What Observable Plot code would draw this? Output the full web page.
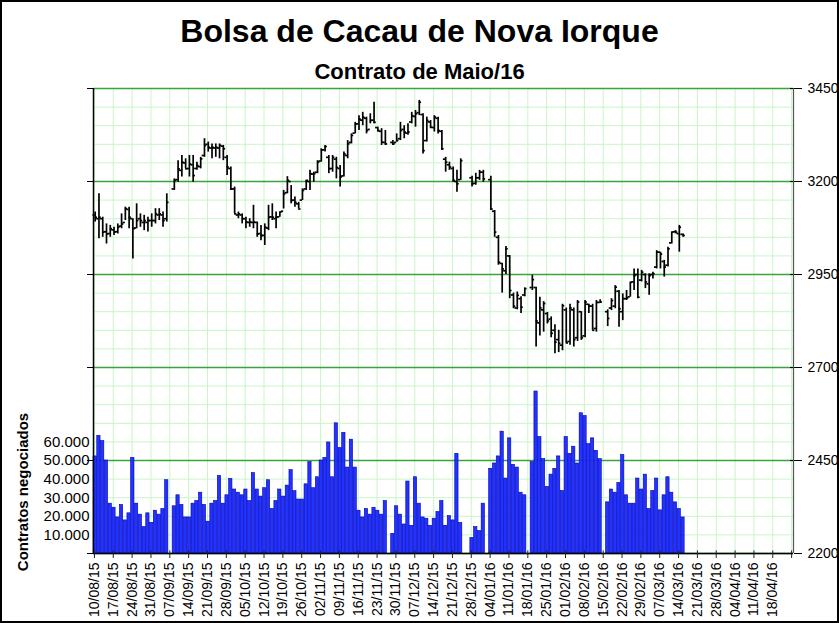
<!DOCTYPE html>
<html>
<head>
<meta charset="utf-8">
<script src="https://cdn.jsdelivr.net/npm/d3@7"></script>
<script src="https://cdn.jsdelivr.net/npm/@observablehq/plot@0.6"></script>
<style>
  body { margin: 0; background: #fff; }
  #wrap { position: relative; width: 839px; height: 623px; overflow: hidden; background: #fff;
          font-family: "Liberation Sans", Arial, sans-serif; color: #000; }
  #chart { position: absolute; left: 0; top: 0; }
  #title { position: absolute; left: 0; width: 839px; top: 15px; text-align: center;
           font-weight: bold; font-size: 32px; line-height: 32px; white-space: nowrap; }
  #subtitle { position: absolute; left: 0; width: 839px; top: 61px; text-align: center;
              font-weight: bold; font-size: 22px; line-height: 22px; white-space: nowrap; }
  #ylabel { position: absolute; left: 22px; top: 492px; transform: translate(-50%, -50%) rotate(-90deg);
            font-weight: bold; font-size: 15px; white-space: nowrap; }
  #frame { position: absolute; left: 0; top: 0; right: 0; bottom: 0; border: 2px solid #000;
           box-sizing: border-box; pointer-events: none; }
</style>
</head>
<body>
<div id="wrap">
  <div id="chart"></div>
  <div id="title">Bolsa de Cacau de Nova Iorque</div>
  <div id="subtitle">Contrato de Maio/16</div>
  <div id="ylabel">Contratos negociados</div>
  <div id="frame"></div>
</div>
<script>
// Weekly tick labels (Mondays); trading day index 0 = 10/08/15, 5 weekdays per week
const weekLabels = ["10/08/15","17/08/15","24/08/15","31/08/15","07/09/15","14/09/15","21/09/15","28/09/15",
  "05/10/15","12/10/15","19/10/15","26/10/15","02/11/15","09/11/15","16/11/15","23/11/15","30/11/15",
  "07/12/15","14/12/15","21/12/15","28/12/15","04/01/16","11/01/16","18/01/16","25/01/16","01/02/16",
  "08/02/16","15/02/16","22/02/16","29/02/16","07/03/16","14/03/16","21/03/16","28/03/16","04/04/16",
  "11/04/16","18/04/16"];

// Daily OHLC (US$/t), one entry per weekday; null = exchange holiday
const open = [3110,3100,3100,3065,3060,3070,3065,3080,3090,3125,3100,3075,3100,3090,3090,3095,3095,3110,3110,3100,
  null,3180,3205,3230,3250,3235,3245,3235,3240,3270,3300,3290,3290,3290,3295,3265,3235,3180,3110,3110,
  3100,3090,3090,3090,3060,3055,3075,3105,3100,3105,3120,3170,3200,3150,3140,3150,3180,3200,3220,3225,
  3255,3285,3265,3235,3260,3235,3215,3270,3305,3330,3355,3365,3370,3340,3365,3345,3335,3305,null,3305,
  3305,3315,3340,3330,3360,3375,3385,3380,3310,3360,3345,3370,3335,3260,3245,3235,3200,3205,null,null,
  3210,3195,3210,3225,null,3205,3120,3050,2980,2960,3000,2895,2860,2885,2895,null,2915,2915,2820,2855,
  2845,2830,2800,2775,2760,2855,2770,2855,2780,2850,2785,2870,2865,2805,2875,null,2850,2860,2865,2905,
  2850,2885,2890,2930,2950,2935,2950,2925,2950,2970,3010,2985,2975,3035,3065,3060,3058];
const high = [3118,3167,3104,3086,3082,3077,3086,3113,3131,3131,3100,3140,3113,3109,3104,3113,3127,3127,3118,3167,
  null,3207,3256,3270,3261,3270,3270,3252,3265,3315,3306,3301,3301,3301,3297,3270,3239,3185,3118,3113,
  3104,3100,3136,3091,3082,3086,3136,3140,3118,3118,3176,3213,3189,3158,3144,3180,3203,3230,3225,3256,
  3288,3297,3270,3270,3265,3243,3279,3310,3328,3359,3377,3386,3373,3382,3413,3346,3342,3337,null,3310,
  3328,3359,3350,3355,3386,3391,3418,3382,3373,3364,3377,3373,3337,3265,3252,3239,3230,3261,null,null,
  3214,3222,3230,3230,null,3214,3122,3055,2980,3025,3001,2900,2903,2890,2914,null,2948,2916,2889,2877,
  2848,2836,2815,2800,2870,2860,2870,2860,2880,2850,2880,2870,2870,2880,2882,null,2855,2885,2920,2907,
  2898,2907,2929,2965,2965,2961,2952,2952,2956,3014,3010,2988,3023,3064,3068,3082,3059];
const low = [3091,3046,3050,3032,3050,3055,3059,3073,3095,3073,2992,3073,3077,3068,3064,3077,3086,3095,3077,3091,
  null,3176,3198,3212,3234,3212,3198,3230,3234,3265,3279,3261,3265,3261,3256,3216,3176,3113,3100,3086,
  3073,3077,3073,3050,3041,3028,3068,3095,3073,3104,3126,3167,3140,3131,3126,3149,3176,3176,3198,3221,
  3252,3279,3221,3225,3207,3185,3212,3261,3301,3328,3337,3350,3328,3355,3355,3333,3297,3297,null,3297,
  3306,3310,3315,3324,3355,3346,3377,3274,3306,3342,3333,3328,3283,3225,3230,3198,3171,3203,null,null,
  3185,3190,3203,3198,null,3122,3050,2975,2900,2950,2885,2858,2855,2845,2890,null,2907,2755,2785,2795,
  2817,2780,2737,2740,2745,2765,2760,2755,2770,2773,2780,2845,2800,2795,2872,null,2810,2853,2858,2808,
  2826,2880,2889,2907,2885,2930,2912,2894,2938,2965,2965,2943,2970,3032,3059,3010,3050];
const close = [3104,3104,3064,3059,3073,3064,3077,3086,3127,3104,3073,3095,3095,3095,3095,3095,3113,3113,3095,3144,
  null,3203,3234,3252,3234,3247,3216,3243,3261,3297,3292,3292,3292,3297,3288,3239,3180,3113,3113,3100,
  3091,3091,3091,3059,3055,3077,3104,3104,3104,3118,3167,3203,3149,3144,3126,3176,3203,3221,3221,3252,
  3285,3294,3234,3265,3238,3212,3274,3301,3324,3355,3368,3373,3337,3364,3359,3337,3306,3301,null,3301,
  3310,3337,3333,3333,3377,3382,3413,3283,3364,3346,3373,3337,3288,3252,3239,3203,3194,3256,null,null,
  3194,3210,3225,3207,null,3126,3064,2983,2965,3019,2907,2865,2894,2862,2912,null,2936,2825,2860,2872,
  2825,2792,2768,2765,2866,2766,2860,2775,2876,2780,2876,2865,2800,2875,2876,null,2832,2880,2916,2858,
  2885,2887,2929,2947,2889,2956,2930,2947,2952,3010,3005,2970,3019,3064,3064,3077,3055];

// Daily volume (contracts)
const volume = [52200,63300,60400,50000,26800,24600,19400,26100,17800,21600,51400,26800,20900,14200,21600,16500,23000,20900,23900,39400,
  null,25400,31300,26100,19400,19400,26800,28200,32700,26100,17100,26800,28200,41700,26800,31300,40100,34400,32700,31300,
  34400,28200,43200,34400,30600,35100,39400,23900,28200,34400,30600,36500,44800,33500,29000,29000,37200,49100,35100,41000,
  50000,51400,59700,41000,70000,56700,64900,46200,61200,46200,23000,19400,23900,20900,24600,23000,20900,28200,null,10600,
  25400,20900,15600,38700,14900,41000,26800,19400,18700,14900,18700,22300,28200,14900,20100,17800,53600,16400,null,null,
  8300,14200,12100,26800,null,45500,48400,52200,65500,40300,61900,47700,46200,32700,31300,null,49100,87100,62600,50700,
  35800,42400,45500,52200,33600,62600,53600,57400,48400,75400,73900,58800,61900,55200,50700,null,27500,34400,32700,37900,
  52900,31300,26800,26800,40300,34400,42400,23900,33600,40300,23200,31300,41000,32700,27500,23900,19400];

// Axis definitions
const priceMajor = [2200, 2450, 2700, 2950, 3200, 3450];
const priceMinorStep = 50;
const volumeTicks = [10000, 20000, 30000, 40000, 50000, 60000];
const volumeFull = 250000; // contracts spanning the full price range 2200..3450

const pMin = 2200, pMax = 3450;
const volToPrice = v => pMin + v * (pMax - pMin) / volumeFull;

const bars = high.map((h, i) => ({i, open: open[i], high: h, low: low[i], close: close[i]})).filter(d => d.high != null);
const vols = volume.map((v, i) => ({i, v})).filter(d => d.v != null);
const weekIdx = weekLabels.map((_, k) => k * 5).concat([weekLabels.length * 5]);
const minorY = d3.range(pMin, pMax + 1, priceMinorStep);
const ptBR = d3.formatLocale({decimal: ",", thousands: ".", grouping: [3], currency: ["", ""]});
const fmtVol = ptBR.format(",");

const chart = Plot.plot({
  width: 839, height: 623,
  marginLeft: 93, marginRight: 46, marginTop: 88, marginBottom: 70,
  style: {fontFamily: '"Liberation Sans", Arial, sans-serif', fontSize: "14px", color: "#000", background: "transparent", overflow: "visible"},
  x: {type: "linear", domain: [-0.25, 185.5], axis: null},
  y: {type: "linear", domain: [pMin, pMax], axis: null},
  marks: [
    // grid
    Plot.ruleY(minorY, {stroke: "#c9f5c9", strokeWidth: 1}),
    Plot.ruleX(weekIdx, {stroke: "#c9f5c9", strokeWidth: 1}),
    Plot.ruleY(priceMajor, {stroke: "#38a538", strokeWidth: 1.4}),
    // volume bars
    Plot.rectY(vols, {x1: d => d.i - 0.25, x2: d => d.i + 0.62, y1: pMin, y2: d => volToPrice(d.v),
      fill: "#2233ff", stroke: "#0000b0", strokeWidth: 0.6}),
    // OHLC bars
    Plot.ruleX(bars, {x: d => d.i + 0.2, y1: "low", y2: "high", stroke: "#000", strokeWidth: 1.7}),
    Plot.ruleY(bars, {y: "open", x1: d => d.i - 0.4, x2: d => d.i + 0.2, stroke: "#000", strokeWidth: 1.7}),
    Plot.ruleY(bars, {y: "close", x1: d => d.i + 0.2, x2: d => d.i + 0.8, stroke: "#000", strokeWidth: 1.7}),
    // axis lines
    Plot.ruleX([-0.25], {stroke: "#000", strokeWidth: 1.5}),
    Plot.ruleX([185.5], {stroke: "#555", strokeWidth: 1.2}),
    Plot.ruleY([pMin], {stroke: "#000", strokeWidth: 1.5}),
    // x ticks crossing the axis
    Plot.ruleX(weekIdx, {y1: pMin, y2: pMin + 7, stroke: "#222"}),
    Plot.axisX({ticks: weekIdx, tickFormat: d => weekLabels[d / 5] ?? "", tickRotate: -90,
      tickSize: 5, tickPadding: 4, fontSize: 14, label: null, stroke: "#222"}),
    // left: price tick marks (no labels) + volume labels
    Plot.axisY({anchor: "left", ticks: priceMajor, tickSize: 6, tickFormat: () => "", label: null}),
    Plot.axisY({anchor: "left", ticks: volumeTicks.map(volToPrice), tickSize: 0, tickPadding: 4,
      tickFormat: p => fmtVol(Math.round((p - pMin) * volumeFull / (pMax - pMin))), fontSize: 15, label: null}),
    // right price axis
    Plot.ruleY(priceMajor, {x1: 184.7, x2: 185.5, stroke: "#000"}),
    Plot.axisY({anchor: "right", ticks: priceMajor, tickSize: 8, tickPadding: 6, tickFormat: d => String(d),
      fontSize: 14, label: null})
  ]
});
document.getElementById("chart").appendChild(chart);
</script>
</body>
</html>
